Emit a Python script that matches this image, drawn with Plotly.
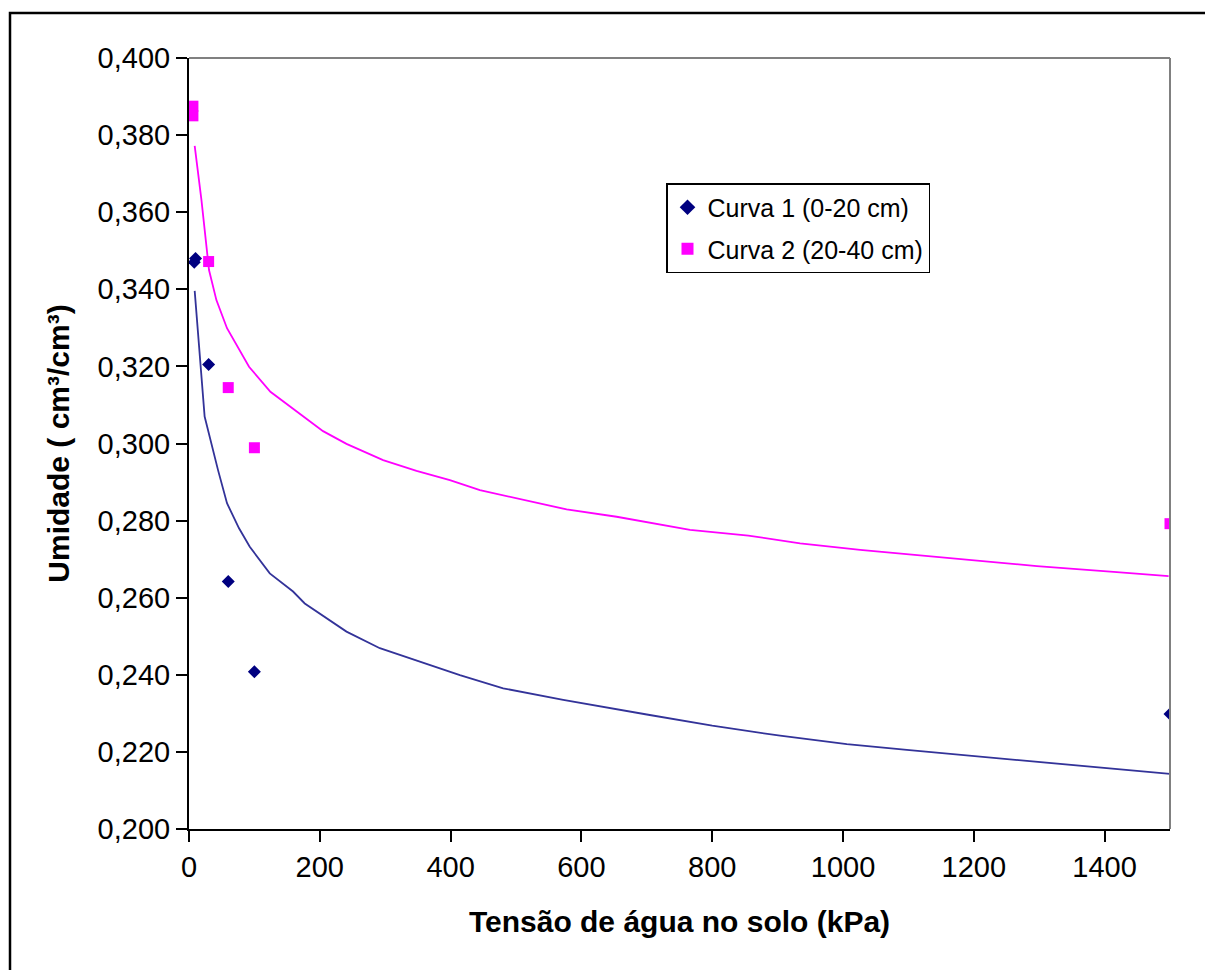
import plotly.graph_objects as go

# Observed points
c1_x = [8, 10, 30, 60, 100, 1500]
c1_y = [0.347, 0.348, 0.3205, 0.2642, 0.2408, 0.2298]
c2_x = [6, 6, 30, 60, 100, 1500]
c2_y = [0.3875, 0.385, 0.3472, 0.3145, 0.2989, 0.2792]

# Trend lines
t1_x = [8.7, 16.3, 23.9, 44.4, 58.1, 76.5, 92.9, 123.5, 159.1, 177, 207.6, 240.8, 291.8,
        347.9, 398.9, 414.2, 480.4, 572.2, 700, 800, 903.8, 1005.8, 1097.6, 1300, 1500]
t1_y = [0.3396, 0.3243, 0.3070, 0.2931, 0.2845, 0.2780, 0.2732, 0.2663, 0.2616, 0.2585,
        0.2551, 0.2512, 0.2469, 0.2437, 0.2406, 0.2399, 0.2365, 0.2335, 0.2297, 0.2268,
        0.2242, 0.2220, 0.2205, 0.2174, 0.2143]
t2_x = [8.7, 19, 30.6, 41.9, 58.1, 76.5, 91.8, 124.5, 159.1, 205, 240.8, 296.8, 347.9,
        398.9, 444.8, 498.4, 577.4, 653.9, 766.1, 855.3, 934.4, 1026.2, 1158.8, 1296.5,
        1413.7, 1497.9]
t2_y = [0.3772, 0.3632, 0.3450, 0.3372, 0.3299, 0.3243, 0.3199, 0.3134, 0.3091, 0.3032,
        0.2999, 0.2957, 0.2929, 0.2905, 0.2879, 0.2858, 0.2829, 0.2810, 0.2776, 0.2761,
        0.2741, 0.2724, 0.2704, 0.2682, 0.2667, 0.2656]

x_ticks = [0, 200, 400, 600, 800, 1000, 1200, 1400]
y_ticks = [0.200, 0.220, 0.240, 0.260, 0.280, 0.300, 0.320, 0.340, 0.360, 0.380, 0.400]

FONT = "Liberation Sans, Arial, sans-serif"
NAVY = "#000080"
MAG = "#FF00FF"
TREND1 = "#333399"

fig = go.Figure()
fig.add_trace(go.Scatter(x=t1_x, y=t1_y, mode="lines", line=dict(color=TREND1, width=1.8),
                         showlegend=False, hoverinfo="skip"))
fig.add_trace(go.Scatter(x=t2_x, y=t2_y, mode="lines", line=dict(color=MAG, width=1.8),
                         showlegend=False, hoverinfo="skip"))
fig.add_trace(go.Scatter(x=c1_x, y=c1_y, mode="markers", name="Curva 1 (0-20 cm)",
                         legendgroup="a",
                         marker=dict(symbol="diamond", size=10, color=NAVY,
                                     line=dict(width=0))))
fig.add_trace(go.Scatter(x=c2_x, y=c2_y, mode="markers", name="Curva 2 (20-40 cm)",
                         legendgroup="b",
                         marker=dict(symbol="square", size=11, color=MAG,
                                     line=dict(width=0))))

L, R, T, B = 189, 35, 58, 141
W, H = 1205, 970
pw = W - L - R
ph = H - T - B

fig.update_layout(
    width=W, height=H,
    margin=dict(l=L, r=R, t=T, b=B, pad=0),
    paper_bgcolor="white", plot_bgcolor="white",
    separators=",.",
    font=dict(family=FONT, size=29, color="black"),
    showlegend=True,
    legend=dict(x=(666 - L) / pw, y=(H - B - 183) / ph, xanchor="left", yanchor="top",
                bordercolor="black", borderwidth=1.5, bgcolor="white",
                font=dict(family=FONT, size=25, color="black"),
                traceorder="grouped", tracegroupgap=6,
                itemsizing="constant"),
    xaxis=dict(range=[0, 1500], tickvals=x_ticks, tickformat="d",
               showgrid=False, zeroline=False,
               showline=True, linecolor="black", linewidth=2,
               ticks="outside", ticklen=11, tickwidth=2, tickcolor="black",
               tickfont=dict(family=FONT, size=29),
               title=dict(text="<b>Tensão de água no solo (kPa)</b>",
                          font=dict(family=FONT, size=30), standoff=29)),
    yaxis=dict(range=[0.2, 0.4], tickvals=y_ticks, tickformat=".3f",
               showgrid=False, zeroline=False,
               showline=True, linecolor="black", linewidth=2,
               ticks="outside", ticklen=11, tickwidth=2, tickcolor="black",
               tickfont=dict(family=FONT, size=29),
               title=dict(text="<b>Umidade ( cm³/cm³)</b>",
                          font=dict(family=FONT, size=30), standoff=19)),
    shapes=[
        # gray top/right plot border
        dict(type="line", xref="paper", yref="paper", x0=0, x1=1, y0=1, y1=1,
             line=dict(color="#808080", width=2)),
        dict(type="line", xref="paper", yref="paper", x0=1, x1=1, y0=0, y1=1,
             line=dict(color="#808080", width=2)),
        # outer chart border
        dict(type="rect", xref="paper", yref="paper",
             x0=(10 - L) / pw, x1=(W + 20 - L) / pw,
             y0=(H - B - (H + 20)) / ph, y1=(H - B - 13) / ph,
             line=dict(color="black", width=2.5), layer="below"),
    ],
)

fig.write_html("out.html")
